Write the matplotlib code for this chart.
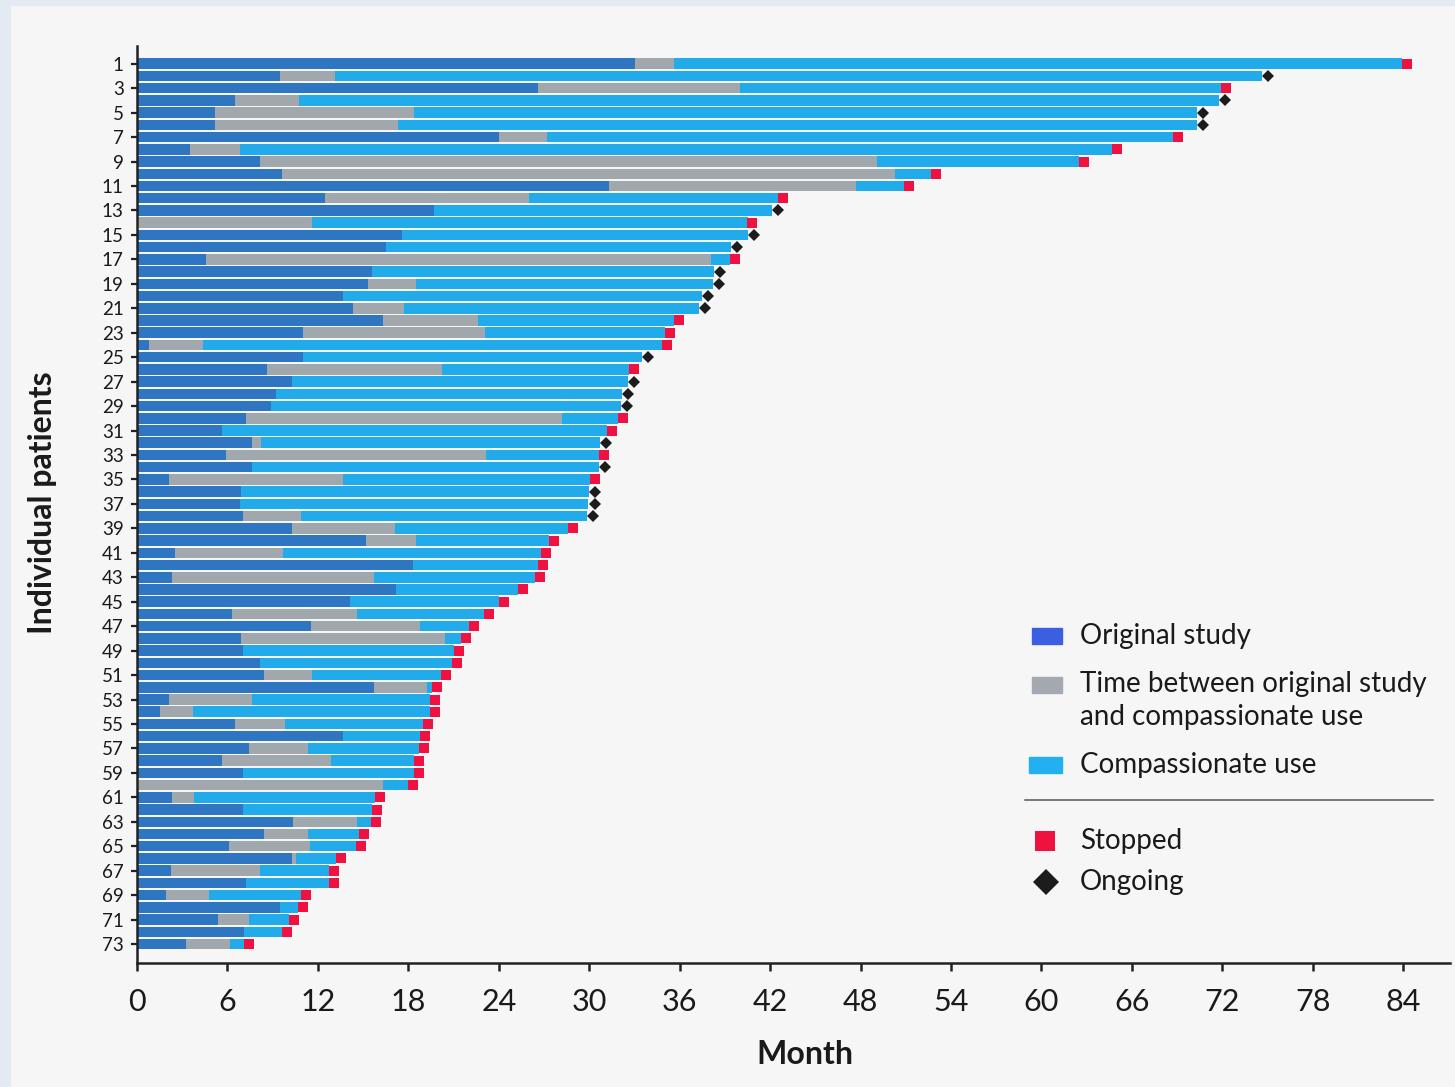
import numpy as np
import matplotlib
matplotlib.use("Agg")
import matplotlib.pyplot as plt
from matplotlib.patches import Rectangle
from matplotlib.lines import Line2D

plt.rcParams['font.family'] = ['Lato', 'DejaVu Sans']

# Months spent in each phase, patient 1 at the top
original_study = [
    33.05, 9.5, 26.6, 6.5, 5.15, 5.15, 24.0, 3.5, 8.15, 9.6,
    31.3, 12.5, 19.7, 0.0, 17.6, 16.5, 4.6, 15.6, 15.3, 13.65,
    14.35, 16.35, 11.0, 0.8, 11.0, 8.65, 10.3, 9.25, 8.9, 7.2,
    5.65, 7.65, 5.9, 7.6, 2.15, 6.9, 6.85, 7.0, 10.25, 15.2,
    2.55, 18.3, 2.35, 17.2, 14.15, 6.3, 11.55, 6.9, 7.0, 8.15,
    8.4, 15.75, 2.15, 1.55, 6.5, 13.65, 7.45, 5.65, 7.0, 0.0,
    2.35, 7.0, 10.35, 8.4, 6.1, 10.25, 2.25, 7.25, 1.9, 9.5,
    5.35, 7.1, 3.25,
]
time_between = [
    2.55, 3.65, 13.4, 4.25, 13.25, 12.15, 3.2, 3.3, 40.95, 40.7,
    16.4, 13.5, 0.0, 11.6, 0.0, 0.0, 33.5, 0.0, 3.2, 0.0,
    3.35, 6.25, 12.1, 3.6, 0.0, 11.55, 0.0, 0.0, 0.0, 21.0,
    0.0, 0.6, 17.25, 0.0, 11.5, 0.0, 0.0, 3.9, 6.85, 3.3,
    7.15, 0.0, 13.4, 0.0, 0.0, 8.3, 7.25, 13.5, 0.0, 0.0,
    3.2, 3.5, 5.5, 2.15, 3.3, 0.0, 3.9, 7.25, 0.0, 16.35,
    1.45, 0.0, 4.25, 2.95, 5.4, 0.3, 5.9, 0.0, 2.85, 0.0,
    2.1, 0.0, 2.9,
]
compassionate_use = [
    48.3, 61.45, 31.9, 61.0, 51.9, 53.0, 41.5, 57.9, 13.4, 2.4,
    3.2, 16.55, 22.45, 28.9, 22.9, 22.9, 1.25, 22.7, 19.7, 23.85,
    19.6, 13.0, 11.9, 30.4, 22.5, 12.45, 22.3, 22.95, 23.2, 3.7,
    25.55, 22.45, 7.5, 23.05, 16.4, 23.1, 23.1, 18.95, 11.5, 8.8,
    17.1, 8.3, 10.65, 8.05, 9.85, 8.4, 3.25, 1.1, 14.0, 12.75,
    8.6, 0.3, 11.8, 15.75, 9.15, 5.15, 7.35, 5.5, 11.4, 1.65,
    12.0, 8.6, 0.9, 3.35, 3.0, 2.65, 4.6, 5.5, 6.1, 1.15,
    2.65, 2.55, 0.95,
]
# "O" = ongoing, "S" = stopped
status = (
    "SOSOOOSSSS"
    "SSOSOOSOOO"
    "OSSSOSOOOS"
    "SOSOSOOOSS"
    "SSSSSSSSSS"
    "SSSSSSSSSS"
    "SSSSSSSSSS"
    "SSS"
)
x_ticks = [0, 6, 12, 18, 24, 30, 36, 42, 48, 54, 60, 66, 72, 78, 84]

C_ORIG = "#2e76c1"
C_GAP = "#a1a8ad"
C_COMP = "#22abeb"
C_STOP = "#ef1140"
C_ONGO = "#1c1c1c"
BG = "#f6f6f6"

W, H = 1455, 1087
fig = plt.figure(figsize=(W / 100, H / 100), dpi=100, facecolor=BG)

def fx(px):
    return px / W

def fy(py):
    return 1 - py / H

# thin frame bands along the top and left edges
fig.patches.append(Rectangle((0, fy(5)), 1, 5 / H, transform=fig.transFigure,
                             color="#e3eaf1", zorder=0))
fig.patches.append(Rectangle((0, 0), 10 / W, 1, transform=fig.transFigure,
                             color="#e3eaf1", zorder=0))

ax = fig.add_axes([fx(137), fy(963), fx(1450) - fx(137), fy(46) - fy(963)])
ax.set_facecolor(BG)

orig = np.array(original_study)
gap = np.array(time_between)
comp = np.array(compassionate_use)
patients = np.arange(1, len(orig) + 1)
total = orig + gap + comp

bh = 0.86
ax.barh(patients, orig, height=bh, color=C_ORIG, linewidth=0)
ax.barh(patients, gap, left=orig, height=bh, color=C_GAP, linewidth=0)
ax.barh(patients, comp, left=orig + gap, height=bh, color=C_COMP, linewidth=0)

stopped = np.array([s == "S" for s in status])
ongoing = ~stopped
ax.plot(total[stopped] + 0.33, patients[stopped], linestyle="none", marker="s",
        ms=7.2, color=C_STOP, markeredgewidth=0, zorder=5)
ax.plot(total[ongoing] + 0.4, patients[ongoing], linestyle="none", marker="D",
        ms=6.4, color=C_ONGO, markeredgewidth=0, zorder=5)

ax.set_xlim(0, 87.1)
ax.set_ylim(74.55, -0.45)

ax.set_xticks(x_ticks)
ax.set_xticklabels([str(t) for t in x_ticks])
odd = patients[::2]
ax.set_yticks(odd)
ax.set_yticklabels([str(p) for p in odd])

for s in ["top", "right"]:
    ax.spines[s].set_visible(False)
for s in ["left", "bottom"]:
    ax.spines[s].set_linewidth(1.8)
    ax.spines[s].set_color("#222222")

ax.tick_params(axis="x", length=6, width=1.8, color="#222222", pad=12,
               labelsize=22, labelcolor="#1a1a1a")
ax.tick_params(axis="y", length=4.5, width=1.6, color="#222222", pad=5,
               labelsize=13.5, labelcolor="#1a1a1a")

fig.text(fx(805), fy(1055), "Month", ha="center", va="center",
         fontsize=23, fontweight="bold", color="#1a1a1a")
fig.text(fx(43), fy(503), "Individual patients", ha="center", va="center",
         rotation=90, fontsize=23, fontweight="bold", color="#1a1a1a")

# legend, drawn by hand to include the divider line
def swatch(x0, x1, y0, y1, color):
    fig.patches.append(Rectangle((fx(x0), fy(y1)), fx(x1) - fx(x0), fy(y0) - fy(y1),
                                 transform=fig.transFigure, color=color, zorder=3))

def label(px, py, text):
    fig.text(fx(px), fy(py), text, ha="left", va="center", fontsize=20,
             color="#1a1a1a")

swatch(1032, 1062, 628, 644, "#3b5fe0")
label(1080, 636, "Original study")
swatch(1032, 1062, 677, 693, "#a3a9ae")
label(1080, 684, "Time between original study")
label(1080, 717, "and compassionate use")
swatch(1029, 1062, 757, 773, "#22b0f0")
label(1080, 765, "Compassionate use")
fig.add_artist(Line2D([fx(1025), fx(1433)], [fy(800), fy(800)],
                      transform=fig.transFigure, color="#555555", lw=1.1))
fig.add_artist(Line2D([fx(1045)], [fy(841)], transform=fig.transFigure,
                      marker="s", ms=14, color=C_STOP, markeredgewidth=0,
                      linestyle="none"))
label(1080, 841, "Stopped")
fig.add_artist(Line2D([fx(1046)], [fy(882)], transform=fig.transFigure,
                      marker="D", ms=13, color=C_ONGO, markeredgewidth=0,
                      linestyle="none"))
label(1080, 882, "Ongoing")

fig.savefig("out.png", dpi=100, facecolor=BG)
